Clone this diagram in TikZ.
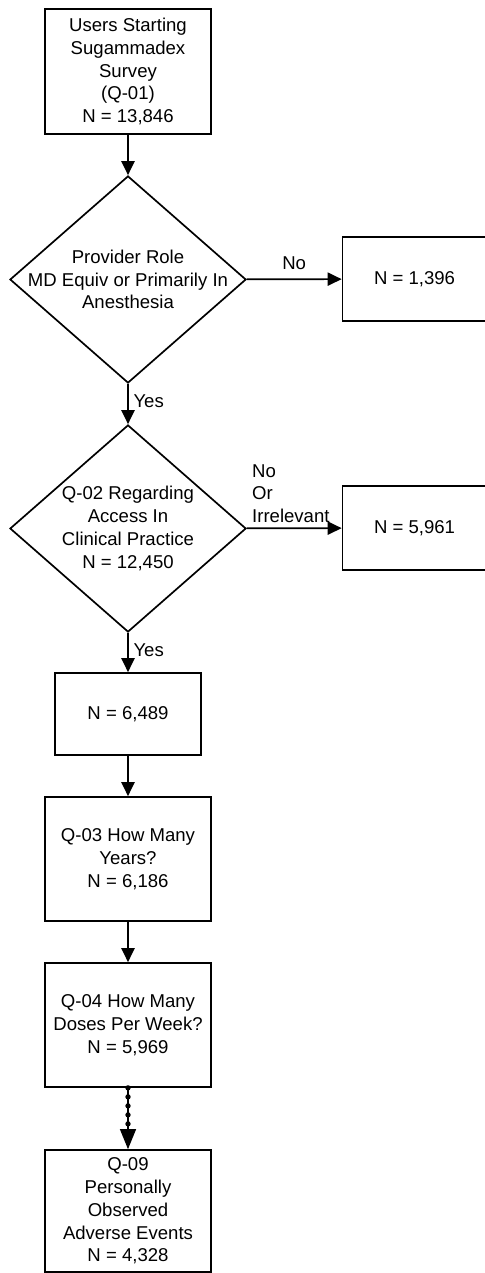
\documentclass[tikz,border=0pt]{standalone}
\usepackage{fontspec}
\setmainfont{Liberation Sans}
\usetikzlibrary{shapes.geometric,arrows.meta,decorations.markings}

\tikzset{
  stepbox/.style={draw, line width=1.2pt, align=center, inner sep=0pt},
  choice/.style={draw, diamond, line width=1.2pt, align=center,
    inner xsep=-40pt, inner ysep=-20pt,
    minimum width=5.9cm, minimum height=5.175cm},
  arr/.style={line width=1.2pt, -{Triangle[length=0.35cm,width=0.33cm]}},
  dotarr/.style={line width=0.8pt, -{Triangle[length=0.5cm,width=0.4cm]},
    decoration={markings,
      mark=between positions 0 and 0.72 step 0.225cm with {\fill circle (1.9pt);}},
    postaction=decorate},
}

\begin{document}
\begin{tikzpicture}[x=0.025cm, y=-0.025cm, font=\fontsize{13.2pt}{16.2pt}\selectfont]
\useasboundingbox (0,0) rectangle (485,1273);

\draw

(128,71.5) node[stepbox, minimum width=4.15cm, minimum height=3.125cm] (Q01) {Users Starting\\Sugammadex\\Survey\\(Q-01)\\N = 13,846}

(128,279.5) node[choice] (role) {Provider Role\\MD Equiv or Primarily In\\Anesthesia}
(414.5,279) node[stepbox, minimum width=3.6cm, minimum height=2.1cm] (outA) {N = 1,396}

(128,528.5) node[choice] (access) {Q-02 Regarding\\Access In\\Clinical Practice\\N = 12,450}
(414.5,528) node[stepbox, minimum width=3.6cm, minimum height=2.1cm] (outB) {N = 5,961}

(128,714) node[stepbox, minimum width=3.65cm, minimum height=2.05cm] (users) {N = 6,489}
(128,859) node[stepbox, minimum width=4.15cm, minimum height=3.1cm] (Q03) {Q-03 How Many\\Years?\\N = 6,186}
(128,1025) node[stepbox, minimum width=4.15cm, minimum height=3.1cm] (Q04) {Q-04 How Many\\Doses Per Week?\\N = 5,969}
(128,1211) node[stepbox, minimum width=4.15cm, minimum height=3.05cm] (Q09) {Q-09\\Personally\\Observed\\Adverse Events\\N = 4,328};

\draw[arr] (Q01) edge (role);
\draw[arr] (role) edge node[above, yshift=3pt] {No} (outA);
\draw[arr] (role) edge node[right, pos=.43] {Yes} (access);
\draw[arr] (access) edge node[above right, pos=0, align=left] {No\\Or\\Irrelevant} (outB);
\draw[arr] (access) edge node[right, pos=.45] {Yes} (users);
\draw[arr] (users) edge (Q03);
\draw[arr] (Q03) edge (Q04);
\draw[dotarr] (Q04) -- (Q09);
\end{tikzpicture}
\end{document}
